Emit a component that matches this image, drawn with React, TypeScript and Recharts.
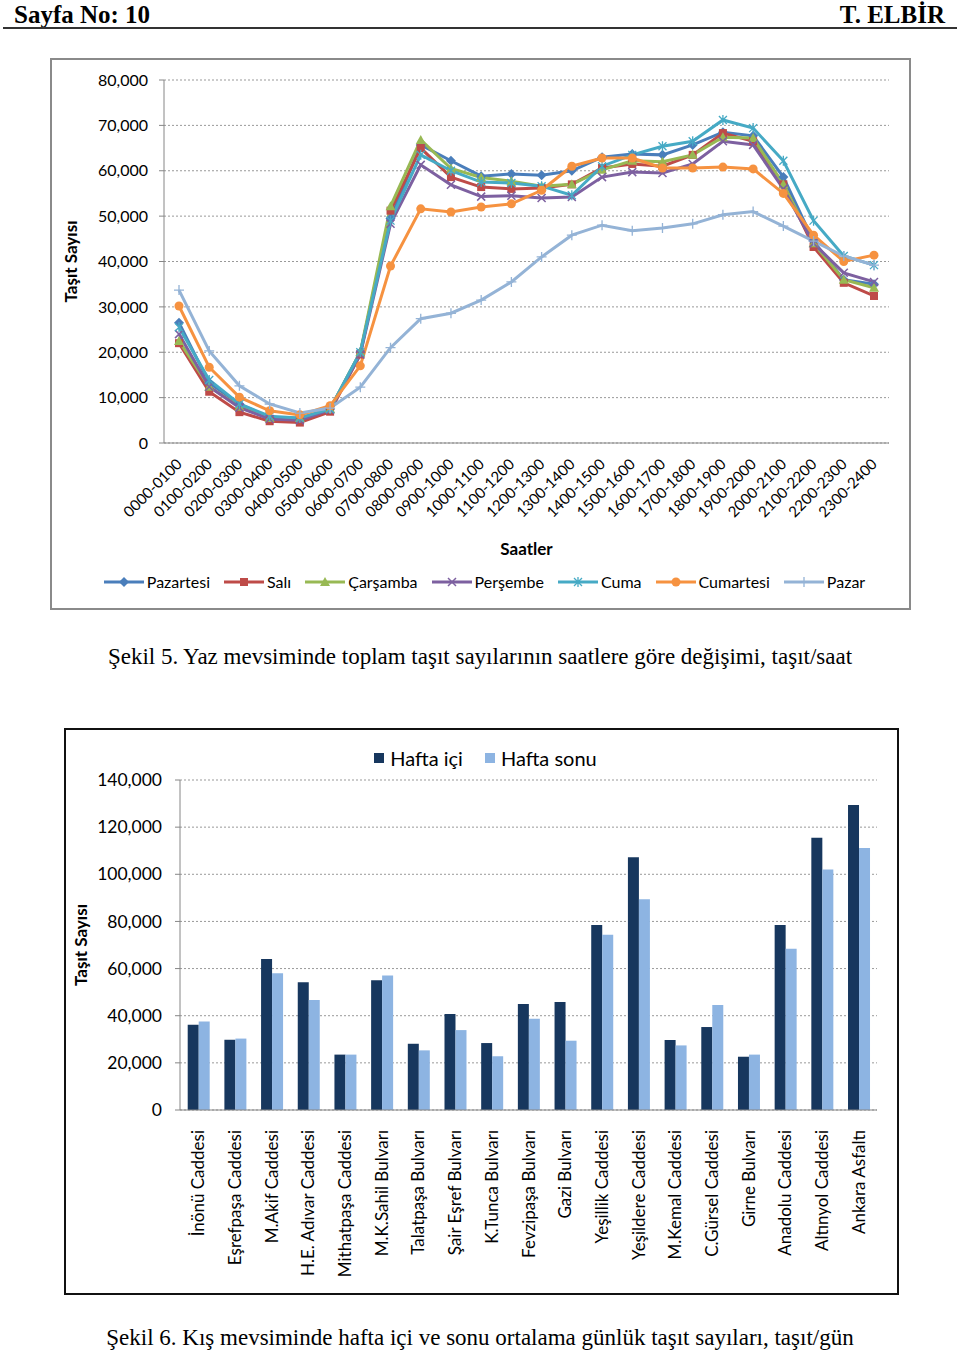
import {
  LineChart,
  Line,
  BarChart,
  Bar,
  XAxis,
  YAxis,
  CartesianGrid,
  Legend,
} from "recharts"

// --- Şekil 5: hourly totals (summer) ---
const hours = [
  "0000-0100", "0100-0200", "0200-0300", "0300-0400", "0400-0500", "0500-0600",
  "0600-0700", "0700-0800", "0800-0900", "0900-1000", "1000-1100", "1100-1200",
  "1200-1300", "1300-1400", "1400-1500", "1500-1600", "1600-1700", "1700-1800",
  "1800-1900", "1900-2000", "2000-2100", "2100-2200", "2200-2300", "2300-2400",
]
const pazartesi = [26500, 13200, 8600, 5600, 5200, 7500, 20000, 49500, 65700, 62200, 58800, 59300, 59000, 60000, 63000, 63700, 63500, 65700, 68500, 67700, 58600, 44500, 36000, 35000]
const sali = [22000, 11300, 6800, 4800, 4500, 6900, 19500, 51200, 65000, 58600, 56400, 56000, 56200, 57000, 60600, 61500, 61000, 63500, 68300, 66500, 57000, 43200, 35300, 32400]
const carsamba = [22500, 12400, 8000, 5500, 5500, 7500, 20000, 52200, 66800, 60500, 58500, 57700, 56600, 57000, 60200, 62200, 62000, 63500, 67400, 67200, 57000, 44000, 36000, 34200]
const persembe = [24000, 12400, 7800, 5300, 5000, 7300, 19500, 48300, 61300, 56900, 54300, 54500, 54000, 54200, 58600, 59700, 59500, 61500, 66500, 65700, 56000, 44000, 37500, 35500]
const cuma = [25500, 13900, 8600, 5900, 5500, 7500, 20000, 49000, 63500, 60000, 57500, 57300, 56600, 54600, 61000, 63500, 65400, 66500, 71200, 69400, 62200, 49000, 41200, 39200]
const cumartesi = [30200, 16700, 10100, 7100, 6200, 8200, 17000, 39000, 51600, 50900, 52000, 52700, 55700, 61000, 62800, 62800, 60600, 60600, 60800, 60400, 55000, 45800, 40000, 41400]
const pazar = [33700, 20300, 12600, 8600, 6600, 7700, 12300, 21000, 27400, 28600, 31500, 35500, 41000, 45800, 48000, 46800, 47400, 48300, 50300, 51000, 47800, 44500, 41200, 39200]
const hourTicks = [0, 10000, 20000, 30000, 40000, 50000, 60000, 70000, 80000]

// --- Şekil 6: weekday vs weekend (winter) ---
const streets = [
  "İnönü Caddesi", "Eşrefpaşa Caddesi", "M.Akif Caddesi", "H.E. Adıvar Caddesi",
  "Mithatpaşa Caddesi", "M.K.Sahil Bulvarı", "Talatpaşa Bulvarı", "Şair Eşref Bulvarı",
  "K.Tunca Bulvarı", "Fevzipaşa Bulvarı", "Gazi Bulvarı", "Yeşillik Caddesi",
  "Yeşildere Caddesi", "M.Kemal Caddesi", "C.Gürsel Caddesi", "Girne Bulvarı",
  "Anadolu Caddesi", "Altınyol Caddesi", "Ankara Asfaltı",
]
const haftaIci = [36200, 29800, 64100, 54200, 23500, 55000, 28100, 40700, 28400, 45000, 45800, 78500, 107200, 29700, 35200, 22600, 78500, 115500, 129400]
const haftaSonu = [37500, 30300, 58000, 46700, 23500, 57100, 25300, 33900, 22800, 38700, 29400, 74400, 89400, 27400, 44500, 23500, 68400, 102000, 111200]
const streetTicks = [0, 20000, 40000, 60000, 80000, 100000, 120000, 140000]

const days = [
  { key: "Pazartesi", values: pazartesi, color: "#4a7ebb", shape: "diamond" },
  { key: "Salı", values: sali, color: "#be4b48", shape: "square" },
  { key: "Çarşamba", values: carsamba, color: "#98b954", shape: "triangle" },
  { key: "Perşembe", values: persembe, color: "#7d60a0", shape: "x" },
  { key: "Cuma", values: cuma, color: "#46aac5", shape: "star" },
  { key: "Cumartesi", values: cumartesi, color: "#f69240", shape: "circle" },
  { key: "Pazar", values: pazar, color: "#94b3d6", shape: "plus" },
]

const hourData = hours.map((h, i) => {
  const row: Record<string, string | number> = { hour: h }
  days.forEach((d) => (row[d.key] = d.values[i]))
  return row
})

const streetData = streets.map((s, i) => ({
  street: s,
  ici: haftaIci[i],
  sonu: haftaSonu[i],
}))

const FONT = "Lato, 'Open Sans', sans-serif"
const fmt = (v: number) => v.toLocaleString("en-US")

function Marker({ shape, cx, cy, color }: { shape: string; cx: number; cy: number; color: string }) {
  const s = 4
  switch (shape) {
    case "diamond":
      return <path d={`M${cx},${cy - 5}L${cx + 5},${cy}L${cx},${cy + 5}L${cx - 5},${cy}Z`} fill={color} />
    case "square":
      return <rect x={cx - s} y={cy - s} width={2 * s} height={2 * s} fill={color} />
    case "triangle":
      return <path d={`M${cx},${cy - 5}L${cx + 5},${cy + 4}L${cx - 5},${cy + 4}Z`} fill={color} />
    case "x":
      return <path d={`M${cx - s},${cy - s}L${cx + s},${cy + s}M${cx - s},${cy + s}L${cx + s},${cy - s}`} stroke={color} strokeWidth={1.5} />
    case "star":
      return <path d={`M${cx - s},${cy - s}L${cx + s},${cy + s}M${cx - s},${cy + s}L${cx + s},${cy - s}M${cx},${cy - 5}L${cx},${cy + 5}`} stroke={color} strokeWidth={1.3} />
    case "circle":
      return <circle cx={cx} cy={cy} r={4.5} fill={color} />
    default:
      return <path d={`M${cx - 5},${cy}L${cx + 5},${cy}M${cx},${cy - 5}L${cx},${cy + 5}`} stroke={color} strokeWidth={1.3} />
  }
}

const HourTick = ({ x, y, payload }: any) => (
  <text
    x={x + 4}
    y={y + 20}
    transform={`rotate(-45 ${x + 4} ${y + 20})`}
    textAnchor="end"
    fontSize={15}
    fontFamily={FONT}
    fill="#000"
  >
    {payload.value}
  </text>
)

const StreetTick = ({ x, y, payload }: any) => (
  <text
    x={x + 6}
    y={y + 18}
    transform={`rotate(-90 ${x + 6} ${y + 18})`}
    textAnchor="end"
    fontSize={17}
    fontFamily={FONT}
    fill="#000"
  >
    {payload.value}
  </text>
)

const DayLegend = () => (
  <div style={{ display: "flex", justifyContent: "center", gap: 14, fontFamily: FONT, fontSize: 16 }}>
    {days.map((d) => (
      <div key={d.key} style={{ display: "flex", alignItems: "center", gap: 3 }}>
        <svg width={40} height={12}>
          <line x1={0} y1={6} x2={40} y2={6} stroke={d.color} strokeWidth={3} />
          <Marker shape={d.shape} cx={20} cy={6} color={d.color} />
        </svg>
        <span>{d.key}</span>
      </div>
    ))}
  </div>
)

const WeekLegend = () => (
  <div style={{ display: "flex", justifyContent: "center", gap: 22, fontFamily: FONT, fontSize: 20, marginLeft: 8 }}>
    {[
      { label: "Hafta içi", color: "#17375e" },
      { label: "Hafta sonu", color: "#8db4e2" },
    ].map((it) => (
      <div key={it.label} style={{ display: "flex", alignItems: "center", gap: 6 }}>
        <span style={{ width: 10, height: 10, background: it.color, display: "inline-block" }} />
        <span>{it.label}</span>
      </div>
    ))}
  </div>
)

const caption: React.CSSProperties = {
  position: "absolute",
  left: 0,
  width: 960,
  textAlign: "center",
  fontFamily: "'Liberation Serif', 'Times New Roman', serif",
  fontSize: 23,
  color: "#000",
  whiteSpace: "nowrap",
}

const header: React.CSSProperties = {
  position: "absolute",
  top: 1,
  fontFamily: "'Liberation Serif', serif",
  fontWeight: "bold",
  fontSize: 25,
}

export default function App() {
  return (
    <div style={{ position: "absolute", left: 0, top: 0, width: 960, height: 1351, background: "#fff" }}>
      <div style={{ ...header, left: 14 }}>Sayfa No: 10</div>
      <div style={{ ...header, right: 15 }}>T. ELBİR</div>
      <div style={{ position: "absolute", left: 3, top: 27, width: 954, height: 2, background: "#333" }} />

      <div style={{ position: "absolute", left: 50, top: 58, width: 857, height: 548, border: "2px solid #8a8a8a" }}>
        <LineChart
          width={857}
          height={548}
          data={hourData}
          margin={{ top: 20, right: 20, left: -2, bottom: 45 }}
        >
          <CartesianGrid vertical={false} stroke="#999" strokeDasharray="2 2" />
          <XAxis
            dataKey="hour"
            interval={0}
            padding={{ left: 15, right: 15 }}
            tick={<HourTick />}
            tickLine={false}
            tickSize={0}
            height={120}
            axisLine={{ stroke: "#868686" }}
            label={{ value: "Saatler", position: "insideBottom", offset: 8, fontSize: 17, fontWeight: "bold", fontFamily: FONT, fill: "#000" }}
          />
          <YAxis
            domain={[0, 80000]}
            ticks={hourTicks}
            width={114}
            tickFormatter={fmt}
            tickSize={5}
            tickMargin={11}
            tickLine={{ stroke: "#868686" }}
            axisLine={{ stroke: "#868686" }}
            tick={{ fontSize: 16, fontFamily: FONT, fill: "#000" }}
            label={{ value: "Taşıt Sayısı", angle: -90, position: "insideLeft", offset: 21, fontSize: 17, fontWeight: "bold", fontFamily: FONT, fill: "#000", style: { textAnchor: "middle" } }}
          />
          <Legend
            verticalAlign="middle"
            align="center"
            content={<DayLegend />}
            wrapperStyle={{ top: 512, left: 4, width: 857 }}
          />
          {days.map((d) => (
            <Line
              key={d.key}
              dataKey={d.key}
              stroke={d.color}
              strokeWidth={3}
              isAnimationActive={false}
              dot={(p: any) => <Marker key={`${d.key}-${p.index}`} shape={d.shape} cx={p.cx} cy={p.cy} color={d.color} />}
              activeDot={false}
            />
          ))}
        </LineChart>
      </div>

      <div style={{ ...caption, top: 644 }}>
        Şekil 5. Yaz mevsiminde toplam taşıt sayılarının saatlere göre değişimi, taşıt/saat
      </div>

      <div style={{ position: "absolute", left: 64, top: 728, width: 831, height: 563, border: "2px solid #111" }}>
        <BarChart
          width={831}
          height={563}
          data={streetData}
          margin={{ top: 50, right: 20, left: -2, bottom: 13 }}
          barCategoryGap="21%"
          barGap={0}
        >
          <CartesianGrid vertical={false} stroke="#999" strokeDasharray="2 2" />
          <XAxis
            dataKey="street"
            interval={0}
            tick={<StreetTick />}
            tickLine={false}
            tickSize={0}
            height={170}
            axisLine={{ stroke: "#868686" }}
          />
          <YAxis
            domain={[0, 140000]}
            ticks={streetTicks}
            width={116}
            tickFormatter={fmt}
            tickSize={5}
            tickMargin={13}
            tickLine={{ stroke: "#868686" }}
            axisLine={{ stroke: "#868686" }}
            tick={{ fontSize: 17.5, fontFamily: FONT, fill: "#000" }}
            label={{ value: "Taşıt Sayısı", angle: -90, position: "insideLeft", offset: 17, fontSize: 17, fontWeight: "bold", fontFamily: FONT, fill: "#000", style: { textAnchor: "middle" } }}
          />
          <Legend
            verticalAlign="middle"
            align="center"
            content={<WeekLegend />}
            wrapperStyle={{ top: 16, left: 0, width: 831 }}
          />
          <Bar dataKey="ici" fill="#17375e" isAnimationActive={false} />
          <Bar dataKey="sonu" fill="#8db4e2" isAnimationActive={false} />
        </BarChart>
      </div>

      <div style={{ ...caption, top: 1325 }}>
        Şekil 6. Kış mevsiminde hafta içi ve sonu ortalama günlük taşıt sayıları, taşıt/gün
      </div>
    </div>
  )
}
